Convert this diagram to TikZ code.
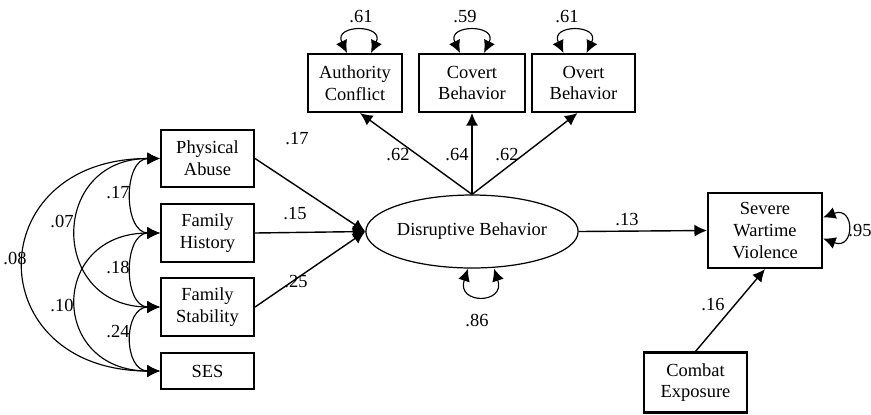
\documentclass[tikz,border=0pt]{standalone}
\usepackage{fontspec}
\setmainfont{Liberation Serif}
\usetikzlibrary{arrows.meta,shapes.geometric,calc}

\begin{document}
\begin{tikzpicture}[x=0.02cm,y=-0.02cm,
  font=\fontsize{10.5}{12.4}\selectfont,
  var/.style={draw,line width=1.2pt,align=center,inner sep=0pt},
  path/.style={line width=0.8pt,-{Latex[length=2.5mm,width=2.4mm]}},
  cov/.style={line width=0.65pt,{Latex[length=2.5mm,width=2.4mm]}-{Latex[length=2.5mm,width=2.4mm]}},
  coef/.style={inner sep=0pt}]

\useasboundingbox (0,0) rectangle (871,414);

% Exogenous variables
\node[var,minimum width=1.86cm,minimum height=1.15cm] (pa) at (207.5,158.5) {Physical\\Abuse};
\node[var,minimum width=1.86cm,minimum height=1.15cm] (fh) at (207.5,233) {Family\\History};
\node[var,minimum width=1.86cm,minimum height=1.15cm] (fs) at (207.5,307) {Family\\Stability};
\node[var,minimum width=1.86cm,minimum height=0.72cm] (ses) at (207.5,371) {SES};

% Latent factor
\node[draw,ellipse,line width=0.7pt,minimum width=3.58cm,minimum height=1.46cm,inner sep=0pt] (db) at (472,231.5) {Disruptive Behavior};

% Indicators
\node[var,minimum width=1.88cm,minimum height=1.16cm] (ac) at (355,83) {Authority\\Conflict};
\node[var,minimum width=2.12cm,minimum height=1.16cm] (cb) at (472,83) {Covert\\Behavior};
\node[var,minimum width=2.06cm,minimum height=1.16cm] (ob) at (583.5,83) {Overt\\Behavior};

% Outcome and covariate
\node[var,minimum width=2.28cm,minimum height=1.5cm] (swv) at (765,230.5) {Severe\\Wartime\\Violence};
\node[var,minimum width=2.06cm,minimum height=1.2cm] (ce) at (695.5,382.5) {Combat\\Exposure};

% Correlations among predictors
\draw[cov] (pa.west) .. controls +(-37,0) and +(-37,0) .. (fh.west);
\draw[cov] (fh.west) .. controls +(-37,0) and +(-37,0) .. (fs.west);
\draw[cov] (fs.west) .. controls +(-37,0) and +(-37,0) .. (ses.west);
\draw[cov] (pa.west) .. controls +(-111,0) and +(-111,0) .. (fs.west);
\draw[cov] (fh.west) .. controls +(-111,0) and +(-111,0) .. (ses.west);
\draw[cov] (pa.west) .. controls +(-181,0) and +(-181,0) .. (ses.west);
\node[coef] (r1) at (118,193) {.17};
\node[coef] (r2) at (118,267) {.18};
\node[coef] (r3) at (118,332) {.24};
\node[coef] (r4) at (62,221) {.07};
\node[coef] (r5) at (62,305) {.10};
\node[coef] (r6) at (15,258) {.08};

% Paths into the factor
\draw[path] (pa.east) -- (db.west);
\draw[path] (fh.east) -- (db.west);
\draw[path] (fs.east) -- (db.west);
\node[coef] (b1) at (297,139) {.17};
\node[coef] (b2) at (295,214) {.15};
\node[coef] (b3) at (296,282) {.25};

% Loadings
\draw[path] (db.north) -- ($(ac.south)+(5,0)$);
\draw[path] (db.north) -- (cb.south);
\draw[path] (db.north) -- ($(ob.south)+(-6,0)$);
\node[coef] (l1) at (398,155) {.62};
\node[coef] (l2) at (457,155) {.64};
\node[coef] (l3) at (507,155) {.62};

% Residual loops
\draw[cov] ($(ac.north)+(-8,0)$) .. controls +(-14,-29) and +(14,-29) .. ($(ac.north)+(16,0)$);
\draw[cov] ($(cb.north)+(-12,0)$) .. controls +(-14,-29) and +(14,-29) .. ($(cb.north)+(12,0)$);
\draw[cov] ($(ob.north)+(-20,0)$) .. controls +(-14,-29) and +(14,-29) .. ($(ob.north)+(3,0)$);
\node[coef] (e1) at (361,17) {.61};
\node[coef] (e2) at (465,17) {.59};
\node[coef] (e3) at (567,17) {.61};
\draw[cov] ($(db.south)+(-4,0)$) .. controls +(-12,36) and +(12,36) .. ($(db.south)+(22,0)$);
\node[coef] (e4) at (477,320) {.86};
\draw[cov] ($(swv.east)+(0,-13)$) .. controls +(32,-12) and +(32,12) .. ($(swv.east)+(0,8)$);
\node[coef] (e5) at (860,231) {.95};

% Structural paths
\draw[path] (db.east) -- (swv.west);
\node[coef] (b4) at (627,220) {.13};
\draw[path] (ce.north) -- (swv.south);
\node[coef] (b5) at (713,305) {.16};

\end{tikzpicture}
\end{document}
